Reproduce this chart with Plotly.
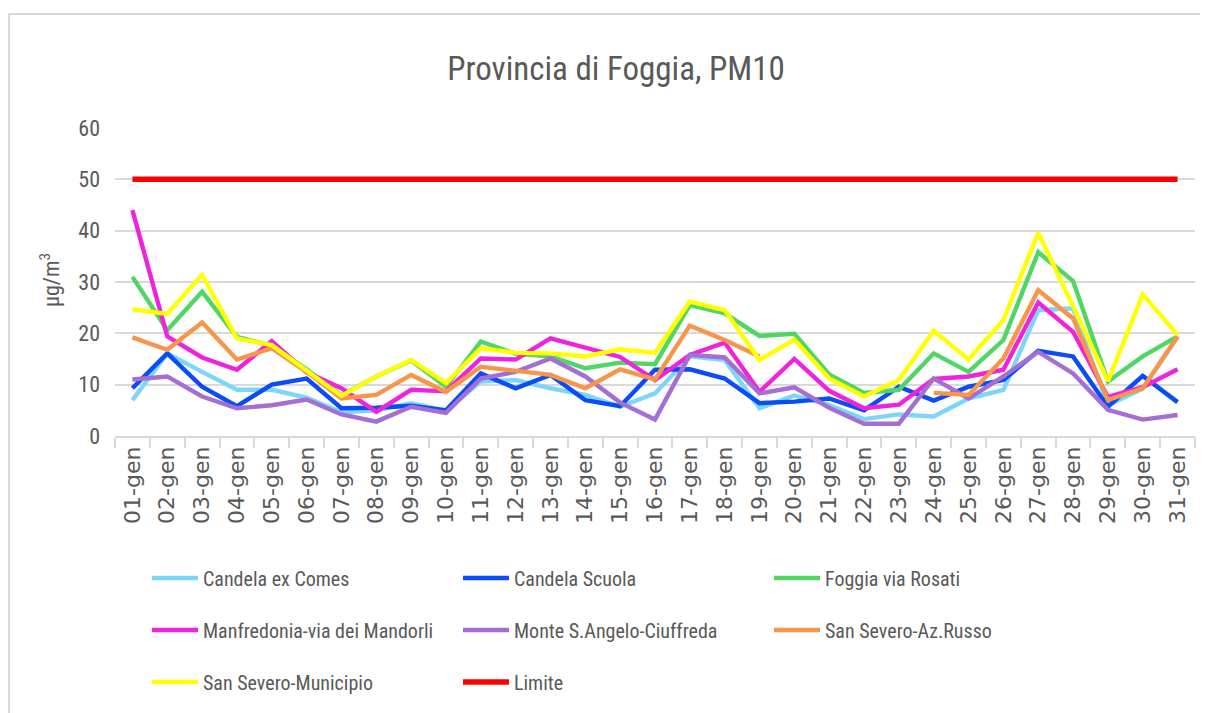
import plotly.graph_objects as go

days = [f"{d:02d}-gen" for d in range(1, 32)]

candela_ex_comes = [7.0, 16.1, 12.5, 9.0, 9.0, 7.5, 4.6, 5.0, 6.4, 5.0, 10.6, 10.9, 9.3, 8.0, 5.7, 8.3,
                    15.5, 14.8, 5.4, 7.9, 6.0, 3.3, 4.2, 3.8, 7.3, 9.0, 24.5, 24.9, 6.0, 9.2, 19.3]
candela_scuola = [9.3, 16.1, 9.6, 5.8, 10.0, 11.2, 5.4, 5.5, 5.9, 5.0, 12.2, 9.3, 11.9, 7.0, 5.8, 12.9,
                  13.0, 11.2, 6.4, 6.7, 7.3, 5.0, 9.6, 6.9, 9.6, 10.9, 16.6, 15.5, 5.7, 11.7, 6.6]
foggia_rosati = [31.0, 20.6, 28.1, 19.3, 17.6, 13.0, 7.9, 11.6, 14.7, 9.6, 18.4, 16.0, 15.5, 13.2, 14.3, 14.0,
                 25.5, 23.9, 19.5, 19.9, 12.0, 8.4, 9.0, 16.1, 12.5, 18.7, 35.8, 30.2, 10.6, 15.5, 19.4]
manfredonia = [44.0, 19.4, 15.3, 12.9, 18.5, 12.4, 9.3, 4.7, 9.0, 8.7, 15.1, 14.9, 19.0, 17.1, 15.4, 10.9,
               15.8, 18.2, 8.6, 15.0, 8.8, 5.4, 6.1, 11.1, 11.6, 12.9, 26.0, 20.3, 7.6, 9.5, 13.0]
monte_sangelo = [11.0, 11.6, 7.7, 5.4, 6.0, 7.1, 4.2, 2.8, 5.7, 4.5, 11.2, 12.5, 15.1, 11.6, 6.5, 3.2,
                 15.8, 15.3, 8.3, 9.5, 5.5, 2.4, 2.4, 11.2, 7.3, 11.6, 16.4, 12.2, 5.1, 3.2, 4.1]
sansevero_russo = [19.2, 16.8, 22.1, 14.9, 17.1, 12.5, 7.3, 8.0, 11.9, 8.6, 13.5, 12.6, 11.9, 9.3, 13.0, 11.0,
                   21.5, 18.7, 15.5, None, None, None, None, 8.4, 8.0, 15.1, 28.4, 22.9, 7.0, 9.3, 19.4]
sansevero_municipio = [24.7, 23.8, 31.4, 19.0, 17.7, 12.8, 7.8, 11.6, 14.8, 10.3, 17.1, 16.2, 16.1, 15.5, 16.9, 16.2,
                       26.2, 24.5, 14.8, 18.8, 11.2, 7.7, 10.9, 20.5, 14.9, 22.6, 39.6, 25.3, 10.7, 27.6, 19.7]
limite = [50] * 31

series = [
    ("Candela ex Comes", candela_ex_comes, "#7DD6FA", "legend"),
    ("Candela Scuola", candela_scuola, "#0A4CF5", "legend"),
    ("Foggia via Rosati", foggia_rosati, "#4FD665", "legend"),
    ("Manfredonia-via dei Mandorli", manfredonia, "#F023DC", "legend2"),
    ("Monte S.Angelo-Ciuffreda", monte_sangelo, "#A46ED2", "legend2"),
    ("San Severo-Az.Russo", sansevero_russo, "#F7964A", "legend2"),
    ("San Severo-Municipio", sansevero_municipio, "#FFFF00", "legend3"),
    ("Limite", limite, "#FF0000", "legend3"),
]

NARROW = "Liberation Sans Narrow, Arial Narrow, Roboto Condensed, Roboto, sans-serif"
GRAY = "#595959"

fig = go.Figure()
for name, vals, color, leg in series:
    fig.add_trace(go.Scatter(
        x=days, y=vals, name=name, mode="lines",
        line=dict(color=color, width=5.5 if name == "Limite" else 4.4),
        legend=leg, connectgaps=False,
    ))

# page has an 8px body margin: work in reference pixel coords and shift by OFF
OFF = 8
W, H = 1208 - OFF, 713 - OFF
L = 115 - OFF
T = 128 - OFF
R = W - (1195 - OFF)
B = H - (436 - OFF)
pw, ph = W - L - R, H - T - B


def px2paper_x(px):
    return (px - OFF - L) / pw


def px2paper_y(py):
    return (H - B - (py - OFF)) / ph


legend_common = dict(
    orientation="h", xanchor="left", yanchor="middle",
    font=dict(family=NARROW, size=20, color=GRAY),
    entrywidth=250, entrywidthmode="pixels", bgcolor="rgba(0,0,0,0)",
    itemwidth=46,
)

fig.update_layout(
    width=W, height=H,
    margin=dict(l=L, r=R, t=T, b=B, autoexpand=False),
    paper_bgcolor="white", plot_bgcolor="white",
    title=dict(text="Provincia di Foggia, PM10", x=(616 - OFF) / W, xref="container", xanchor="center",
               y=1 - (68 - OFF) / H, yref="container", yanchor="middle",
               font=dict(family=NARROW, size=33, color=GRAY)),
    legend=dict(x=px2paper_x(147), y=px2paper_y(578), **legend_common),
    legend2=dict(x=px2paper_x(147), y=px2paper_y(630), **legend_common),
    legend3=dict(x=px2paper_x(147), y=px2paper_y(682), **legend_common),
    showlegend=True,
)

fig.update_xaxes(
    type="category", range=[-0.5, 30.5], automargin=False,
    showline=True, linecolor="#d9d9d9", linewidth=1.5,
    ticks="outside", tickson="boundaries", ticklen=10, tickcolor="#d9d9d9", tickwidth=1.5,
    tickangle=-90, tickfont=dict(family="DejaVu Sans", size=22, color=GRAY),
    showgrid=False,
)
fig.update_yaxes(
    range=[0, 60], dtick=10, automargin=False,
    showgrid=True, gridcolor="#d9d9d9", gridwidth=1.5, zeroline=False,
    showline=False, ticks="", ticklabelstandoff=14,
    tickfont=dict(family=NARROW, size=22, color=GRAY),
)

fig.add_annotation(
    text="µg/m<sup>3</sup>", textangle=-90, showarrow=False,
    xref="paper", yref="paper", x=px2paper_x(50), y=px2paper_y(280),
    xanchor="center", yanchor="middle",
    font=dict(family=NARROW, size=22, color=GRAY),
)

fig.add_shape(
    type="rect", xref="paper", yref="paper",
    x0=px2paper_x(9), y0=px2paper_y(760), x1=px2paper_x(1260), y1=px2paper_y(14),
    line=dict(color="#d9d9d9", width=2), fillcolor="rgba(0,0,0,0)", layer="below",
)

fig.write_html("out.html")
